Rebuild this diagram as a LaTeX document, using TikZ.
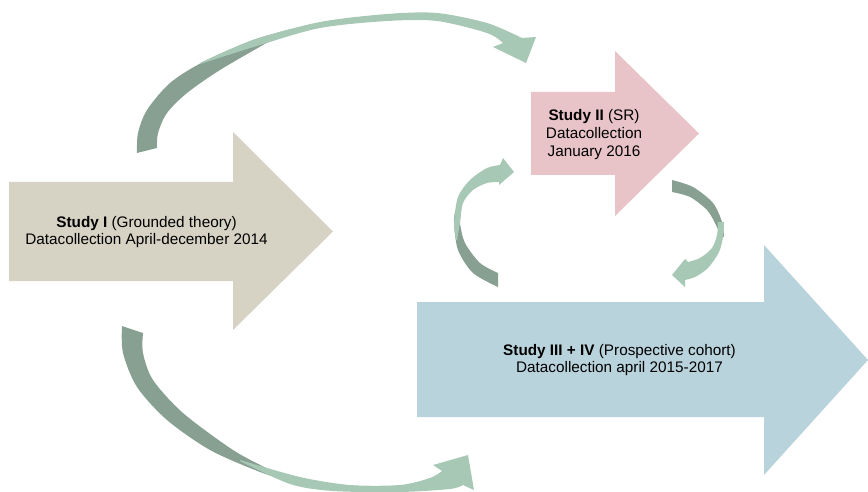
\documentclass[tikz,border=0pt]{standalone}
\usepackage{fontspec}
\setmainfont{Liberation Sans}
\definecolor{beigeA}{RGB}{214,210,196}
\definecolor{pinkA}{RGB}{232,196,200}
\definecolor{blueA}{RGB}{185,211,220}
\definecolor{greenL}{RGB}{168,200,182}
\definecolor{greenD}{RGB}{135,160,145}
\tikzset{
  lbl/.style={align=center,font=\fontsize{15.3}{17.6}\selectfont,inner sep=0pt},
  dk/.style={fill=greenD},
  lt/.style={fill=greenL}
}
\begin{document}
\begin{tikzpicture}[x=1pt,y=-1pt]
\useasboundingbox (0,0) rectangle (868,492);
% big block arrows
\fill[beigeA] (9,182) -- (233,182) -- (233,132) -- (333,231.5) -- (233,330) -- (233,281) -- (9,281) -- cycle;
\fill[pinkA] (531,92) -- (615,92) -- (615,51) -- (699,133.5) -- (615,216) -- (615,175) -- (531,175) -- cycle;
\fill[blueA] (417,302) -- (764,302) -- (764,245) -- (868,360) -- (764,475) -- (764,417) -- (417,417) -- cycle;
% top curved arrow (Study I -> Study II)
\fill[dk] plot[smooth] coordinates {(137,153) (138,133) (147,110) (170,83) (203,62) (253,40) (292,29)}
  -- plot[smooth] coordinates {(292,29) (270,41) (220,70) (187,93) (167,113) (158,133) (157,148)} -- cycle;
\fill[lt] plot[smooth] coordinates {(200,63) (253,40) (320,22) (387,14) (437,13) (487,23) (522,38)}
  -- (536,37) -- (526,63) -- (493,47)
  -- plot[smooth] coordinates {(503,43) (487,33) (437,21) (387,21) (320,28) (260,45) (200,64)} -- cycle;
% bottom curved arrow (Study I -> Study III+IV)
\fill[dk] plot[smooth] coordinates {(122,326) (123,353) (137,387) (167,420) (210,450) (260,472) (292,482)}
  -- plot[smooth] coordinates {(292,482) (270,470) (233,450) (183,413) (153,380) (143,353) (143,333)} -- cycle;
\fill[lt] plot[smooth] coordinates {(240,460) (300,477) (350,485) (400,485) (430,478) (442,471)}
  -- (433,465) -- (468,455) -- (474,490)
  -- plot[smooth] coordinates {(463,485) (450,489) (400,492) (333,491) (290,484) (240,461)} -- cycle;
% left circular arrow (Study III+IV -> Study II)
\fill[dk] plot[smooth] coordinates {(498,287) (473,273) (458,250) (454,223) (455,212)}
  -- plot[smooth] coordinates {(461,212) (460,223) (465,243) (480,263) (498,273)} -- cycle;
\fill[lt] plot[smooth] coordinates {(456,240) (454,223) (458,197) (470,180) (487,168) (500,165)}
  -- (503,158) -- (514,172) -- (499,185)
  -- plot[smooth] coordinates {(499,182) (487,183) (473,190) (463,203) (460,223) (457,240)} -- cycle;
% right circular arrow (Study II -> Study III+IV)
\fill[dk] plot[smooth] coordinates {(672,180) (693,187) (713,203) (722,222) (724,237)}
  -- plot[smooth] coordinates {(721,237) (716,225) (707,210) (690,197) (672,192)} -- cycle;
\fill[lt] plot[smooth] coordinates {(724,222) (723,237) (719,252) (708,268) (695,277) (685,280)}
  -- (685,287) -- (672,275) -- (685,259)
  -- plot[smooth] coordinates {(688,262) (700,258) (712,248) (717,235) (718,222)} -- cycle;
% labels
\node[lbl] (s1) at (146.5,232) {\textbf{Study I} (Grounded theory)\\Datacollection April-december 2014};
\node[lbl] (s2) at (594,134.5) {\textbf{Study II} (SR)\\Datacollection\\January 2016};
\node[lbl] (s3) at (619.5,360) {\textbf{Study III + IV} (Prospective cohort)\\Datacollection april 2015-2017};
\end{tikzpicture}
\end{document}
